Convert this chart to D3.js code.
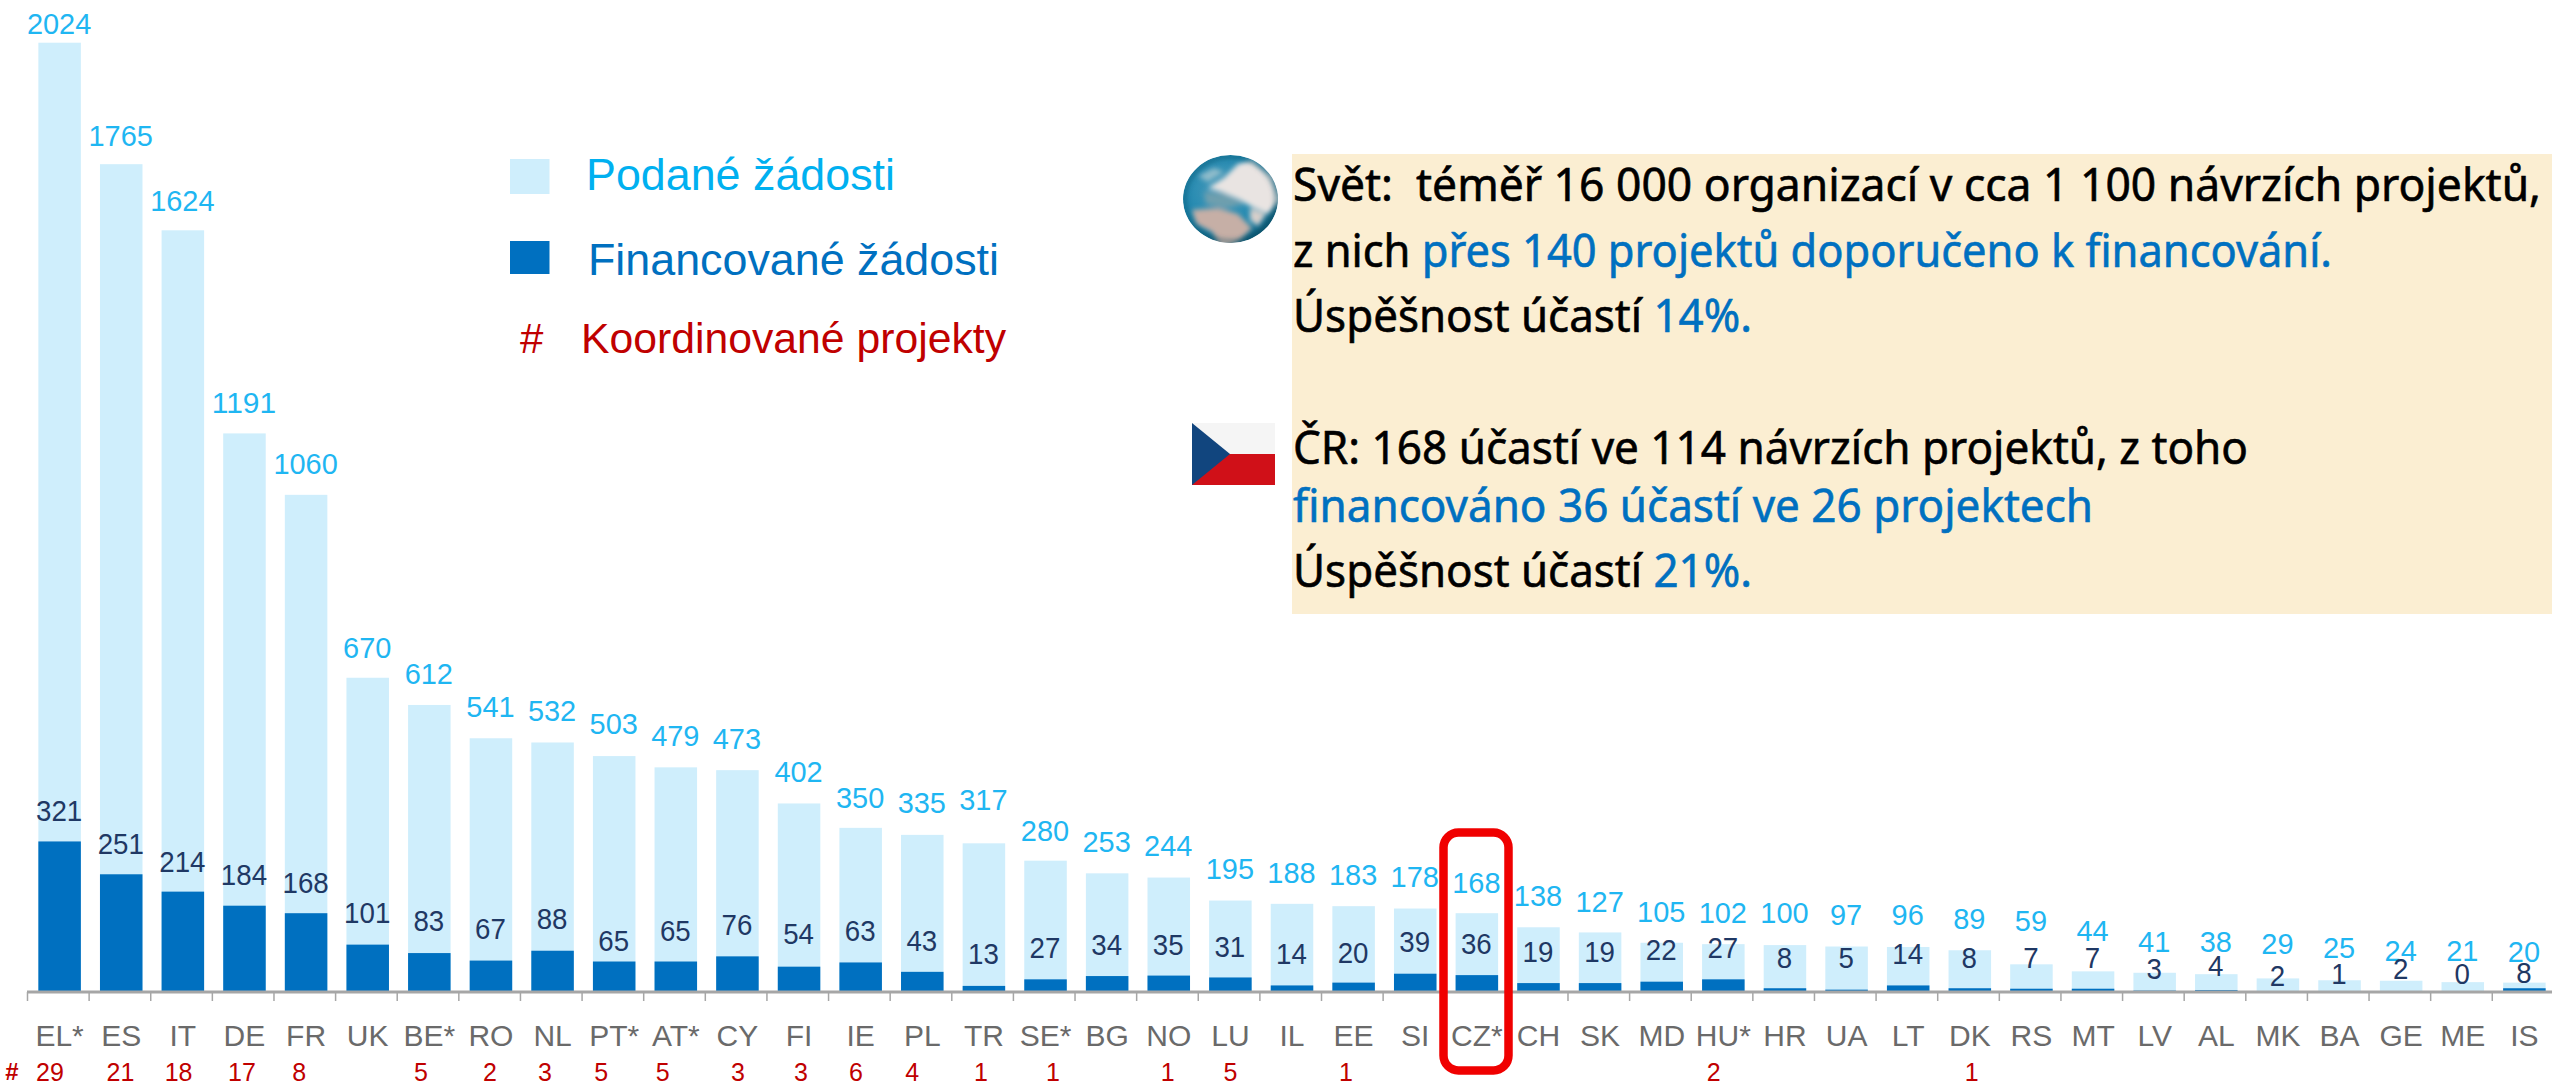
<!DOCTYPE html>
<html lang="cs"><head><meta charset="utf-8">
<script src="https://cdn.jsdelivr.net/npm/d3@7/dist/d3.min.js"></script>
<style>html,body{margin:0;padding:0;background:#fff;overflow:hidden}svg{display:block}text{font-family:"Liberation Sans",Arial,sans-serif}</style>
</head><body>
<script>
// ---- data ----
const countries = ["EL*","ES","IT","DE","FR","UK","BE*","RO","NL","PT*","AT*","CY","FI","IE","PL","TR","SE*","BG","NO","LU","IL","EE","SI","CZ*","CH","SK","MD","HU*","HR","UA","LT","DK","RS","MT","LV","AL","MK","BA","GE","ME","IS"];
const submitted = [2024,1765,1624,1191,1060,670,612,541,532,503,479,473,402,350,335,317,280,253,244,195,188,183,178,168,138,127,105,102,100,97,96,89,59,44,41,38,29,25,24,21,20];
const funded = [321,251,214,184,168,101,83,67,88,65,65,76,54,63,43,13,27,34,35,31,14,20,39,36,19,19,22,27,8,5,14,8,7,7,3,4,2,1,2,0,8];
const coordinated = [29,21,18,17,8,null,5,2,3,5,5,3,3,6,4,1,1,null,1,5,null,1,null,null,null,null,null,2,null,null,null,1,null,null,null,null,null,null,null,null,null];
const legendLabels = ["Podané žádosti","Financované žádosti","Koordinované projekty"];

// ---- layout nudges (label gap above each value, px) ----
const submittedGap = [9,18.5,19,20.7,21,20,21,21,21.5,22,21,21,21,20,22,33,20,21,21.5,21.5,21,21,21.5,20.5,21,20.7,21,21,22,21.5,22,21,33.6,30,21,22,24,22,20,21,20.6];
const fundedGap = [20,20,20,20.7,20.5,21.6,22.4,21.6,21.7,10.8,20.5,21.4,22.7,21.5,21,22,21,21,20.6,20.8,21.4,20,21.7,21,21.4,21.4,21.7,21.3,20,21.7,21.4,20,20.7,20.7,11.6,14,5,7.5,12,8,5];
const coordNudge = [-9.6,-0.7,-4.3,-2.5,-7,0,-8.3,-1,-7.6,-13,-13,0.6,2,-4.7,-10,-3,7.5,0,-1,0,0,-7.6,0,0,0,0,0,-9.7,0,0,0,2,0,0,0,0,0,0,0,0,0];

const W = 2552, H = 1086;
const col = {light:"#CFEEFC", dark:"#0070C0", top:"#1FB6F2", num:"#1F3864", axis:"#A6A6A6", tick:"#6A6A6A", red:"#C00000", box:"#FBEED2", cyan:"#00B0F0"};

const svg = d3.select("body").append("svg").attr("width",W).attr("height",H);
const defs = svg.append("defs");

const x = d3.scaleBand().domain(countries).range([28.8,2555.2]).paddingInner(19.1/61.62).paddingOuter(19.1/61.62/2);
const y = d3.scaleLinear().domain([0,2024]).range([992,42.7]);
const cx = i => x(countries[i]) + x.bandwidth()/2;

// bars
svg.append("g").selectAll("rect").data(submitted).join("rect")
  .attr("x",(d,i)=>x(countries[i])).attr("width",x.bandwidth())
  .attr("y",d=>y(d)).attr("height",d=>y(0)-y(d)).attr("fill",col.light);
svg.append("g").selectAll("rect").data(funded).join("rect")
  .attr("x",(d,i)=>x(countries[i])).attr("width",x.bandwidth())
  .attr("y",d=>y(d)).attr("height",d=>y(0)-y(d)).attr("fill",col.dark);

// axis
const axis = d3.axisBottom(x).tickSize(0).tickPadding(0);
const ax = svg.append("g").attr("transform",`translate(0,${y(0)})`).call(axis);
ax.select(".domain").attr("stroke",col.axis).attr("stroke-width",3).attr("d",`M27,0H${W}`);
ax.selectAll(".tick text").attr("font-size",30).attr("font-family","Liberation Sans").attr("fill",col.tick).attr("dy",0).attr("y",54).attr("text-anchor","middle");
// category boundary ticks
svg.append("g").selectAll("line").data(countries).join("line")
  .attr("x1",d=>x(d)-x.step()*0.155-1.3).attr("x2",d=>x(d)-x.step()*0.155-1.3)
  .attr("y1",y(0)).attr("y2",y(0)+9).attr("stroke",col.axis).attr("stroke-width",1.5);

// value labels
svg.append("g").selectAll("text").data(submitted).join("text")
  .attr("x",(d,i)=>cx(i)-0.5).attr("y",(d,i)=>y(d)-submittedGap[i])
  .attr("text-anchor","middle").attr("font-size",29).attr("fill",col.top)
  .attr("textLength",d=>String(d).length*16.1).attr("lengthAdjust","spacingAndGlyphs").text(d=>d);
svg.append("g").selectAll("text").data(funded).join("text")
  .attr("x",(d,i)=>cx(i)-0.5).attr("y",(d,i)=>y(d)-fundedGap[i])
  .attr("text-anchor","middle").attr("font-size",29).attr("fill",col.num)
  .attr("textLength",d=>String(d).length*15.4).attr("lengthAdjust","spacingAndGlyphs").text(d=>d);

// coordinated projects row
svg.append("g").selectAll("text").data(coordinated).join("text")
  .attr("x",(d,i)=>cx(i)+coordNudge[i]).attr("y",1080.5)
  .attr("text-anchor","middle").attr("font-size",25).attr("fill",col.red).text(d=>d===null?"":d);
svg.append("text").attr("x",12).attr("y",1080).attr("text-anchor","middle").attr("font-size",24).attr("font-weight","bold").attr("fill",col.red).text("#");

// legend
svg.append("rect").attr("x",510).attr("y",159).attr("width",39.5).attr("height",35).attr("fill",col.light);
svg.append("rect").attr("x",510).attr("y",241).attr("width",39.5).attr("height",33).attr("fill",col.dark);
svg.append("text").attr("x",586).attr("y",190).attr("font-size",44).attr("fill",col.cyan).attr("textLength",309).attr("lengthAdjust","spacingAndGlyphs").text(legendLabels[0]);
svg.append("text").attr("x",588).attr("y",275).attr("font-size",44).attr("fill",col.dark).attr("textLength",411).attr("lengthAdjust","spacingAndGlyphs").text(legendLabels[1]);
svg.append("text").attr("x",520).attr("y",352.5).attr("font-size",42).attr("fill",col.red).text("#");
svg.append("text").attr("x",581).attr("y",352.5).attr("font-size",42).attr("fill",col.red).attr("textLength",425).attr("lengthAdjust","spacingAndGlyphs").text(legendLabels[2]);

// info box
svg.append("rect").attr("x",1292).attr("y",154).attr("width",W-1292).attr("height",460).attr("fill",col.box);
const lines = [
 {y:201,len:1248,parts:[["Svět:  téměř 16 000 organizací v cca 1 100 návrzích projektů,","#000"]]},
 {y:266.7,len:1039,parts:[["z nich ","#000"],["přes 140 projektů doporučeno k financování.",col.dark]]},
 {y:332,len:459,parts:[["Úspěšnost účastí ","#000"],["14%.",col.dark]]},
 {y:464,len:955,parts:[["ČR: 168 účastí ve 114 návrzích projektů, z toho","#000"]]},
 {y:521.7,len:800,parts:[["financováno 36 účastí ve 26 projektech",col.dark]]},
 {y:586.7,len:459,parts:[["Úspěšnost účastí ","#000"],["21%.",col.dark]]}
];
const tx = svg.append("g");
lines.forEach(l=>{
  const t = tx.append("text").attr("x",1293).attr("y",l.y).attr("font-size",45).attr("xml:space","preserve")
    .style("font-family","'Noto Sans'").style("white-space","pre")
    .attr("textLength",l.len).attr("lengthAdjust","spacingAndGlyphs");
  l.parts.forEach(p=>t.append("tspan").attr("fill",p[1]).attr("stroke",p[1]).attr("stroke-width",0.6).text(p[0]));
});

// globe icon
const g1 = defs.append("radialGradient").attr("id","sea").attr("cx","0.42").attr("cy","0.4").attr("r","0.66");
g1.append("stop").attr("offset","0").attr("stop-color","#4E9CBC");
g1.append("stop").attr("offset","0.7").attr("stop-color","#1B86AE");
g1.append("stop").attr("offset","1").attr("stop-color","#0E5068");
const clip = defs.append("clipPath").attr("id","gc");
clip.append("ellipse").attr("cx",1230.5).attr("cy",199).attr("rx",47.5).attr("ry",44);
defs.append("filter").attr("id","soft").append("feGaussianBlur").attr("stdDeviation",2.6);
const gl = svg.append("g").attr("clip-path","url(#gc)");
gl.append("ellipse").attr("cx",1230.5).attr("cy",199).attr("rx",47.5).attr("ry",44).attr("fill","url(#sea)");
const land = gl.append("g").attr("filter","url(#soft)");
land.append("path").attr("fill","#E9E4E2").attr("d","M1238 164 L1252 160 L1272 176 L1280 200 L1268 214 L1254 208 L1240 200 L1222 192 L1208 188 L1224 178 Z");
land.append("path").attr("fill","#6E9FAE").attr("d","M1204 192 L1224 194 L1244 204 L1226 208 L1206 204 Z");
land.append("path").attr("fill","#C6AFA6").attr("d","M1192 210 L1218 208 L1238 214 L1252 228 L1240 240 L1222 250 L1212 232 L1196 224 Z");
land.append("path").attr("fill","#D7CFCB").attr("d","M1250 208 L1266 214 L1258 226 L1250 220 Z");
land.append("path").attr("fill","#8FBCCB").attr("d","M1198 176 L1214 168 L1224 172 L1208 182 Z");
gl.append("ellipse").attr("cx",1230.5).attr("cy",199).attr("rx",46).attr("ry",42.5).attr("fill","none").attr("stroke","#0C4560").attr("stroke-opacity",0.45).attr("stroke-width",4).attr("filter","url(#soft)");

// Czech flag icon
const fl = svg.append("g");
fl.append("rect").attr("x",1192).attr("y",423).attr("width",83).attr("height",31).attr("fill","#F5F5F5");
fl.append("rect").attr("x",1192).attr("y",454).attr("width",83).attr("height",31).attr("fill","#D01018");
fl.append("path").attr("fill","#11457E").attr("d","M1192 423 L1230 454 L1192 485 Z");

// highlight around CZ
svg.append("rect").attr("x",1443.5).attr("y",832.5).attr("width",65).attr("height",238).attr("rx",15).attr("ry",15)
  .attr("fill","none").attr("stroke","#F00000").attr("stroke-width",8.5);
</script>
</body></html>
